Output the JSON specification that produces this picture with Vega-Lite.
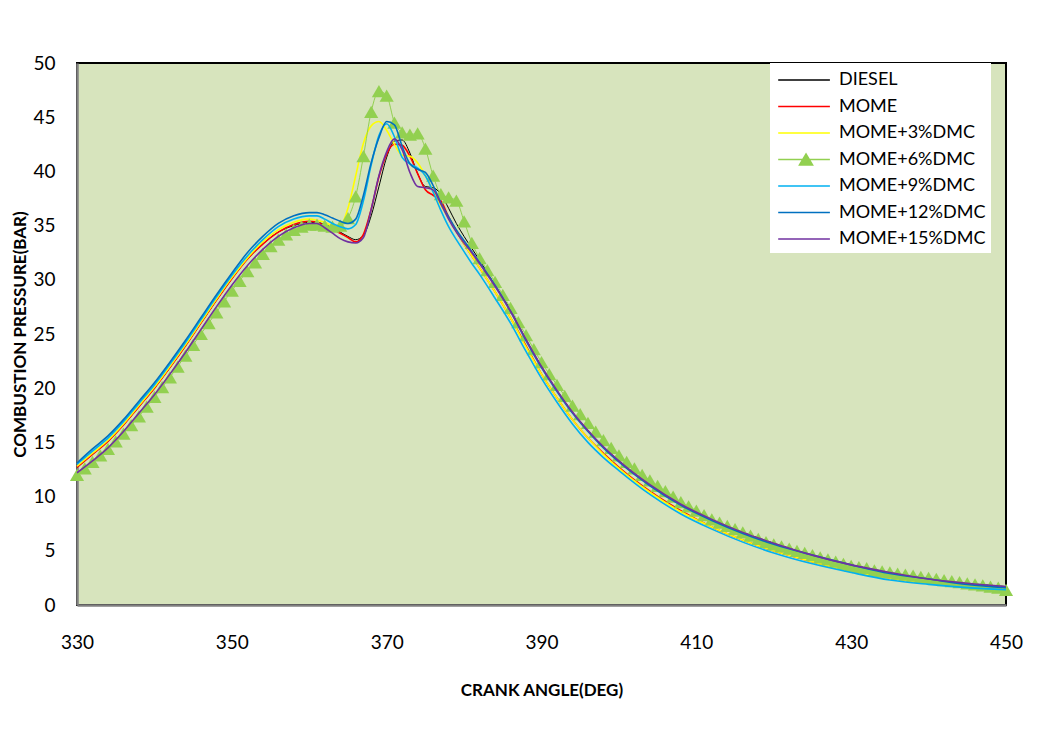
{
  "$schema": "https://vega.github.io/schema/vega-lite/v6.json",
  "width": 929,
  "height": 542,
  "autosize": {"type": "none"},
  "padding": {"left": 77, "top": 63, "right": 37, "bottom": 127},
  "background": "#ffffff",
  "config": {
    "view": {"fill": "#d7e4bd", "stroke": "#000000", "strokeWidth": 2},
    "font": "Lato",
    "axis": {"labelFont": "Lato", "titleFont": "Lato", "labelColor": "#000000", "titleColor": "#000000", "grid": false, "ticks": false, "domainColor": "#808080", "domainWidth": 2.5, "labelFlush": false}
  },
  "data": {"values": [
    {"s":"DIESEL","x":330,"y":12.7},{"s":"DIESEL","x":332,"y":13.9},{"s":"DIESEL","x":334,"y":15.1},{"s":"DIESEL","x":336,"y":16.6},{"s":"DIESEL","x":338,"y":18.3},{"s":"DIESEL","x":340,"y":20.0},{"s":"DIESEL","x":342,"y":21.9},{"s":"DIESEL","x":344,"y":23.9},{"s":"DIESEL","x":346,"y":26.0},{"s":"DIESEL","x":348,"y":28.1},{"s":"DIESEL","x":350,"y":30.1},{"s":"DIESEL","x":352,"y":31.9},{"s":"DIESEL","x":354,"y":33.3},{"s":"DIESEL","x":356,"y":34.4},{"s":"DIESEL","x":358,"y":35.0},{"s":"DIESEL","x":360,"y":35.3},{"s":"DIESEL","x":361,"y":35.3},{"s":"DIESEL","x":362,"y":35.1},{"s":"DIESEL","x":363,"y":34.8},{"s":"DIESEL","x":364,"y":34.4},{"s":"DIESEL","x":365,"y":34.0},{"s":"DIESEL","x":366,"y":33.7},{"s":"DIESEL","x":367,"y":34.1},{"s":"DIESEL","x":368,"y":35.9},{"s":"DIESEL","x":369,"y":38.6},{"s":"DIESEL","x":370,"y":41.3},{"s":"DIESEL","x":371,"y":42.8},{"s":"DIESEL","x":372,"y":42.9},{"s":"DIESEL","x":373,"y":41.7},{"s":"DIESEL","x":374,"y":39.8},{"s":"DIESEL","x":375,"y":38.6},{"s":"DIESEL","x":376,"y":38.5},{"s":"DIESEL","x":377,"y":37.9},{"s":"DIESEL","x":378,"y":36.6},{"s":"DIESEL","x":379,"y":35.2},{"s":"DIESEL","x":380,"y":34.0},{"s":"DIESEL","x":381,"y":32.9},{"s":"DIESEL","x":382,"y":31.8},{"s":"DIESEL","x":384,"y":29.5},{"s":"DIESEL","x":386,"y":27.2},{"s":"DIESEL","x":388,"y":24.5},{"s":"DIESEL","x":390,"y":22.0},{"s":"DIESEL","x":392,"y":19.8},{"s":"DIESEL","x":394,"y":17.8},{"s":"DIESEL","x":396,"y":16.1},{"s":"DIESEL","x":398,"y":14.6},{"s":"DIESEL","x":400,"y":13.3},{"s":"DIESEL","x":404,"y":11.1},{"s":"DIESEL","x":408,"y":9.3},{"s":"DIESEL","x":412,"y":7.9},{"s":"DIESEL","x":416,"y":6.7},{"s":"DIESEL","x":420,"y":5.7},{"s":"DIESEL","x":425,"y":4.6},{"s":"DIESEL","x":430,"y":3.7},{"s":"DIESEL","x":435,"y":3.0},{"s":"DIESEL","x":440,"y":2.4},{"s":"DIESEL","x":445,"y":2.0},{"s":"DIESEL","x":450,"y":1.7},

    {"s":"MOME","x":330,"y":12.7},{"s":"MOME","x":332,"y":13.9},{"s":"MOME","x":334,"y":15.1},{"s":"MOME","x":336,"y":16.6},{"s":"MOME","x":338,"y":18.3},{"s":"MOME","x":340,"y":20.0},{"s":"MOME","x":342,"y":21.9},{"s":"MOME","x":344,"y":23.9},{"s":"MOME","x":346,"y":26.0},{"s":"MOME","x":348,"y":28.1},{"s":"MOME","x":350,"y":30.1},{"s":"MOME","x":352,"y":31.9},{"s":"MOME","x":354,"y":33.3},{"s":"MOME","x":356,"y":34.4},{"s":"MOME","x":358,"y":35.1},{"s":"MOME","x":360,"y":35.4},{"s":"MOME","x":361,"y":35.3},{"s":"MOME","x":362,"y":35.0},{"s":"MOME","x":363,"y":34.7},{"s":"MOME","x":364,"y":34.3},{"s":"MOME","x":365,"y":33.9},{"s":"MOME","x":366,"y":33.5},{"s":"MOME","x":367,"y":34.2},{"s":"MOME","x":368,"y":36.5},{"s":"MOME","x":369,"y":39.5},{"s":"MOME","x":370,"y":41.6},{"s":"MOME","x":371,"y":42.5},{"s":"MOME","x":372,"y":42.4},{"s":"MOME","x":373,"y":41.4},{"s":"MOME","x":374,"y":39.8},{"s":"MOME","x":375,"y":38.3},{"s":"MOME","x":376,"y":37.8},{"s":"MOME","x":377,"y":37.3},{"s":"MOME","x":378,"y":35.8},{"s":"MOME","x":379,"y":34.5},{"s":"MOME","x":380,"y":33.3},{"s":"MOME","x":381,"y":32.2},{"s":"MOME","x":382,"y":31.1},{"s":"MOME","x":384,"y":28.9},{"s":"MOME","x":386,"y":26.5},{"s":"MOME","x":388,"y":23.9},{"s":"MOME","x":390,"y":21.3},{"s":"MOME","x":392,"y":19.1},{"s":"MOME","x":394,"y":17.1},{"s":"MOME","x":396,"y":15.4},{"s":"MOME","x":398,"y":14.0},{"s":"MOME","x":400,"y":12.7},{"s":"MOME","x":404,"y":10.5},{"s":"MOME","x":408,"y":8.7},{"s":"MOME","x":412,"y":7.2},{"s":"MOME","x":416,"y":6.0},{"s":"MOME","x":420,"y":5.0},{"s":"MOME","x":425,"y":4.0},{"s":"MOME","x":430,"y":3.1},{"s":"MOME","x":435,"y":2.5},{"s":"MOME","x":440,"y":2.0},{"s":"MOME","x":445,"y":1.6},{"s":"MOME","x":450,"y":1.3},

    {"s":"MOME+3%DMC","x":330,"y":12.8},{"s":"MOME+3%DMC","x":332,"y":14.0},{"s":"MOME+3%DMC","x":334,"y":15.2},{"s":"MOME+3%DMC","x":336,"y":16.7},{"s":"MOME+3%DMC","x":338,"y":18.4},{"s":"MOME+3%DMC","x":340,"y":20.1},{"s":"MOME+3%DMC","x":342,"y":22.0},{"s":"MOME+3%DMC","x":344,"y":24.0},{"s":"MOME+3%DMC","x":346,"y":26.1},{"s":"MOME+3%DMC","x":348,"y":28.2},{"s":"MOME+3%DMC","x":350,"y":30.2},{"s":"MOME+3%DMC","x":352,"y":32.0},{"s":"MOME+3%DMC","x":354,"y":33.5},{"s":"MOME+3%DMC","x":356,"y":34.6},{"s":"MOME+3%DMC","x":358,"y":35.3},{"s":"MOME+3%DMC","x":360,"y":35.6},{"s":"MOME+3%DMC","x":361,"y":35.5},{"s":"MOME+3%DMC","x":362,"y":35.3},{"s":"MOME+3%DMC","x":363,"y":35.0},{"s":"MOME+3%DMC","x":364,"y":35.0},{"s":"MOME+3%DMC","x":365,"y":36.6},{"s":"MOME+3%DMC","x":366,"y":39.6},{"s":"MOME+3%DMC","x":367,"y":42.6},{"s":"MOME+3%DMC","x":368,"y":44.2},{"s":"MOME+3%DMC","x":369,"y":44.6},{"s":"MOME+3%DMC","x":370,"y":43.8},{"s":"MOME+3%DMC","x":371,"y":42.5},{"s":"MOME+3%DMC","x":372,"y":41.5},{"s":"MOME+3%DMC","x":373,"y":41.4},{"s":"MOME+3%DMC","x":374,"y":40.8},{"s":"MOME+3%DMC","x":375,"y":39.6},{"s":"MOME+3%DMC","x":376,"y":38.2},{"s":"MOME+3%DMC","x":377,"y":36.9},{"s":"MOME+3%DMC","x":378,"y":35.7},{"s":"MOME+3%DMC","x":379,"y":34.5},{"s":"MOME+3%DMC","x":380,"y":33.3},{"s":"MOME+3%DMC","x":381,"y":32.2},{"s":"MOME+3%DMC","x":382,"y":31.1},{"s":"MOME+3%DMC","x":384,"y":28.9},{"s":"MOME+3%DMC","x":386,"y":26.5},{"s":"MOME+3%DMC","x":388,"y":23.8},{"s":"MOME+3%DMC","x":390,"y":21.3},{"s":"MOME+3%DMC","x":392,"y":19.1},{"s":"MOME+3%DMC","x":394,"y":17.1},{"s":"MOME+3%DMC","x":396,"y":15.4},{"s":"MOME+3%DMC","x":398,"y":13.9},{"s":"MOME+3%DMC","x":400,"y":12.6},{"s":"MOME+3%DMC","x":404,"y":10.4},{"s":"MOME+3%DMC","x":408,"y":8.6},{"s":"MOME+3%DMC","x":412,"y":7.2},{"s":"MOME+3%DMC","x":416,"y":6.0},{"s":"MOME+3%DMC","x":420,"y":5.0},{"s":"MOME+3%DMC","x":425,"y":4.0},{"s":"MOME+3%DMC","x":430,"y":3.1},{"s":"MOME+3%DMC","x":435,"y":2.5},{"s":"MOME+3%DMC","x":440,"y":2.0},{"s":"MOME+3%DMC","x":445,"y":1.6},{"s":"MOME+3%DMC","x":450,"y":1.3},

    {"s":"MOME+6%DMC","x":330,"y":12.0},{"s":"MOME+6%DMC","x":331,"y":12.6},{"s":"MOME+6%DMC","x":332,"y":13.2},{"s":"MOME+6%DMC","x":333,"y":13.8},{"s":"MOME+6%DMC","x":334,"y":14.4},{"s":"MOME+6%DMC","x":335,"y":15.1},{"s":"MOME+6%DMC","x":336,"y":15.8},{"s":"MOME+6%DMC","x":337,"y":16.6},{"s":"MOME+6%DMC","x":338,"y":17.4},{"s":"MOME+6%DMC","x":339,"y":18.3},{"s":"MOME+6%DMC","x":340,"y":19.2},{"s":"MOME+6%DMC","x":341,"y":20.1},{"s":"MOME+6%DMC","x":342,"y":21.0},{"s":"MOME+6%DMC","x":343,"y":22.0},{"s":"MOME+6%DMC","x":344,"y":23.0},{"s":"MOME+6%DMC","x":345,"y":24.0},{"s":"MOME+6%DMC","x":346,"y":25.0},{"s":"MOME+6%DMC","x":347,"y":26.0},{"s":"MOME+6%DMC","x":348,"y":27.0},{"s":"MOME+6%DMC","x":349,"y":28.0},{"s":"MOME+6%DMC","x":350,"y":29.0},{"s":"MOME+6%DMC","x":351,"y":29.9},{"s":"MOME+6%DMC","x":352,"y":30.8},{"s":"MOME+6%DMC","x":353,"y":31.6},{"s":"MOME+6%DMC","x":354,"y":32.4},{"s":"MOME+6%DMC","x":355,"y":33.1},{"s":"MOME+6%DMC","x":356,"y":33.7},{"s":"MOME+6%DMC","x":357,"y":34.2},{"s":"MOME+6%DMC","x":358,"y":34.6},{"s":"MOME+6%DMC","x":359,"y":34.9},{"s":"MOME+6%DMC","x":360,"y":35.1},{"s":"MOME+6%DMC","x":361,"y":35.1},{"s":"MOME+6%DMC","x":362,"y":35.0},{"s":"MOME+6%DMC","x":363,"y":34.9},{"s":"MOME+6%DMC","x":364,"y":35.0},{"s":"MOME+6%DMC","x":365,"y":35.7},{"s":"MOME+6%DMC","x":366,"y":37.7},{"s":"MOME+6%DMC","x":367,"y":41.4},{"s":"MOME+6%DMC","x":368,"y":45.5},{"s":"MOME+6%DMC","x":369,"y":47.4},{"s":"MOME+6%DMC","x":370,"y":47.0},{"s":"MOME+6%DMC","x":371,"y":44.5},{"s":"MOME+6%DMC","x":372,"y":43.6},{"s":"MOME+6%DMC","x":373,"y":43.4},{"s":"MOME+6%DMC","x":374,"y":43.5},{"s":"MOME+6%DMC","x":375,"y":42.1},{"s":"MOME+6%DMC","x":376,"y":39.6},{"s":"MOME+6%DMC","x":377,"y":37.9},{"s":"MOME+6%DMC","x":378,"y":37.6},{"s":"MOME+6%DMC","x":379,"y":37.3},{"s":"MOME+6%DMC","x":380,"y":35.4},{"s":"MOME+6%DMC","x":381,"y":33.4},{"s":"MOME+6%DMC","x":382,"y":32.0},{"s":"MOME+6%DMC","x":383,"y":30.9},{"s":"MOME+6%DMC","x":384,"y":29.8},{"s":"MOME+6%DMC","x":385,"y":28.6},{"s":"MOME+6%DMC","x":386,"y":27.4},{"s":"MOME+6%DMC","x":387,"y":26.1},{"s":"MOME+6%DMC","x":388,"y":24.9},{"s":"MOME+6%DMC","x":389,"y":23.6},{"s":"MOME+6%DMC","x":390,"y":22.4},{"s":"MOME+6%DMC","x":391,"y":21.3},{"s":"MOME+6%DMC","x":392,"y":20.3},{"s":"MOME+6%DMC","x":393,"y":19.3},{"s":"MOME+6%DMC","x":394,"y":18.4},{"s":"MOME+6%DMC","x":395,"y":17.6},{"s":"MOME+6%DMC","x":396,"y":16.8},{"s":"MOME+6%DMC","x":397,"y":16.0},{"s":"MOME+6%DMC","x":398,"y":15.2},{"s":"MOME+6%DMC","x":399,"y":14.5},{"s":"MOME+6%DMC","x":400,"y":13.8},{"s":"MOME+6%DMC","x":401,"y":13.2},{"s":"MOME+6%DMC","x":402,"y":12.6},{"s":"MOME+6%DMC","x":403,"y":12.0},{"s":"MOME+6%DMC","x":404,"y":11.5},{"s":"MOME+6%DMC","x":405,"y":11.0},{"s":"MOME+6%DMC","x":406,"y":10.5},{"s":"MOME+6%DMC","x":407,"y":10.0},{"s":"MOME+6%DMC","x":408,"y":9.5},{"s":"MOME+6%DMC","x":409,"y":9.1},{"s":"MOME+6%DMC","x":410,"y":8.7},{"s":"MOME+6%DMC","x":411,"y":8.3},{"s":"MOME+6%DMC","x":412,"y":7.9},{"s":"MOME+6%DMC","x":413,"y":7.6},{"s":"MOME+6%DMC","x":414,"y":7.3},{"s":"MOME+6%DMC","x":415,"y":7.0},{"s":"MOME+6%DMC","x":416,"y":6.7},{"s":"MOME+6%DMC","x":417,"y":6.4},{"s":"MOME+6%DMC","x":418,"y":6.1},{"s":"MOME+6%DMC","x":419,"y":5.8},{"s":"MOME+6%DMC","x":420,"y":5.6},{"s":"MOME+6%DMC","x":421,"y":5.4},{"s":"MOME+6%DMC","x":422,"y":5.2},{"s":"MOME+6%DMC","x":423,"y":5.0},{"s":"MOME+6%DMC","x":424,"y":4.8},{"s":"MOME+6%DMC","x":425,"y":4.6},{"s":"MOME+6%DMC","x":426,"y":4.4},{"s":"MOME+6%DMC","x":427,"y":4.2},{"s":"MOME+6%DMC","x":428,"y":4.0},{"s":"MOME+6%DMC","x":429,"y":3.8},{"s":"MOME+6%DMC","x":430,"y":3.6},{"s":"MOME+6%DMC","x":431,"y":3.5},{"s":"MOME+6%DMC","x":432,"y":3.4},{"s":"MOME+6%DMC","x":433,"y":3.2},{"s":"MOME+6%DMC","x":434,"y":3.1},{"s":"MOME+6%DMC","x":435,"y":3.0},{"s":"MOME+6%DMC","x":436,"y":2.9},{"s":"MOME+6%DMC","x":437,"y":2.8},{"s":"MOME+6%DMC","x":438,"y":2.7},{"s":"MOME+6%DMC","x":439,"y":2.6},{"s":"MOME+6%DMC","x":440,"y":2.5},{"s":"MOME+6%DMC","x":441,"y":2.4},{"s":"MOME+6%DMC","x":442,"y":2.3},{"s":"MOME+6%DMC","x":443,"y":2.2},{"s":"MOME+6%DMC","x":444,"y":2.1},{"s":"MOME+6%DMC","x":445,"y":2.0},{"s":"MOME+6%DMC","x":446,"y":1.9},{"s":"MOME+6%DMC","x":447,"y":1.8},{"s":"MOME+6%DMC","x":448,"y":1.7},{"s":"MOME+6%DMC","x":449,"y":1.6},{"s":"MOME+6%DMC","x":450,"y":1.4},

    {"s":"MOME+9%DMC","x":330,"y":13.0},{"s":"MOME+9%DMC","x":332,"y":14.2},{"s":"MOME+9%DMC","x":334,"y":15.4},{"s":"MOME+9%DMC","x":336,"y":16.9},{"s":"MOME+9%DMC","x":338,"y":18.6},{"s":"MOME+9%DMC","x":340,"y":20.3},{"s":"MOME+9%DMC","x":342,"y":22.2},{"s":"MOME+9%DMC","x":344,"y":24.2},{"s":"MOME+9%DMC","x":346,"y":26.3},{"s":"MOME+9%DMC","x":348,"y":28.4},{"s":"MOME+9%DMC","x":350,"y":30.4},{"s":"MOME+9%DMC","x":352,"y":32.2},{"s":"MOME+9%DMC","x":354,"y":33.7},{"s":"MOME+9%DMC","x":356,"y":34.9},{"s":"MOME+9%DMC","x":358,"y":35.6},{"s":"MOME+9%DMC","x":360,"y":35.9},{"s":"MOME+9%DMC","x":361,"y":35.9},{"s":"MOME+9%DMC","x":362,"y":35.6},{"s":"MOME+9%DMC","x":363,"y":35.2},{"s":"MOME+9%DMC","x":364,"y":34.9},{"s":"MOME+9%DMC","x":365,"y":34.7},{"s":"MOME+9%DMC","x":366,"y":35.1},{"s":"MOME+9%DMC","x":367,"y":37.3},{"s":"MOME+9%DMC","x":368,"y":40.6},{"s":"MOME+9%DMC","x":369,"y":43.3},{"s":"MOME+9%DMC","x":370,"y":44.4},{"s":"MOME+9%DMC","x":371,"y":43.2},{"s":"MOME+9%DMC","x":372,"y":41.3},{"s":"MOME+9%DMC","x":373,"y":40.7},{"s":"MOME+9%DMC","x":374,"y":40.3},{"s":"MOME+9%DMC","x":375,"y":39.6},{"s":"MOME+9%DMC","x":376,"y":38.1},{"s":"MOME+9%DMC","x":377,"y":36.4},{"s":"MOME+9%DMC","x":378,"y":34.9},{"s":"MOME+9%DMC","x":379,"y":33.7},{"s":"MOME+9%DMC","x":380,"y":32.6},{"s":"MOME+9%DMC","x":381,"y":31.5},{"s":"MOME+9%DMC","x":382,"y":30.5},{"s":"MOME+9%DMC","x":384,"y":28.3},{"s":"MOME+9%DMC","x":386,"y":26.0},{"s":"MOME+9%DMC","x":388,"y":23.4},{"s":"MOME+9%DMC","x":390,"y":20.9},{"s":"MOME+9%DMC","x":392,"y":18.7},{"s":"MOME+9%DMC","x":394,"y":16.7},{"s":"MOME+9%DMC","x":396,"y":15.0},{"s":"MOME+9%DMC","x":398,"y":13.6},{"s":"MOME+9%DMC","x":400,"y":12.4},{"s":"MOME+9%DMC","x":404,"y":10.2},{"s":"MOME+9%DMC","x":408,"y":8.4},{"s":"MOME+9%DMC","x":412,"y":7.0},{"s":"MOME+9%DMC","x":416,"y":5.8},{"s":"MOME+9%DMC","x":420,"y":4.8},{"s":"MOME+9%DMC","x":425,"y":3.8},{"s":"MOME+9%DMC","x":430,"y":3.0},{"s":"MOME+9%DMC","x":435,"y":2.3},{"s":"MOME+9%DMC","x":440,"y":1.9},{"s":"MOME+9%DMC","x":445,"y":1.6},{"s":"MOME+9%DMC","x":450,"y":1.4},

    {"s":"MOME+12%DMC","x":330,"y":13.1},{"s":"MOME+12%DMC","x":332,"y":14.4},{"s":"MOME+12%DMC","x":334,"y":15.6},{"s":"MOME+12%DMC","x":336,"y":17.1},{"s":"MOME+12%DMC","x":338,"y":18.8},{"s":"MOME+12%DMC","x":340,"y":20.5},{"s":"MOME+12%DMC","x":342,"y":22.4},{"s":"MOME+12%DMC","x":344,"y":24.4},{"s":"MOME+12%DMC","x":346,"y":26.5},{"s":"MOME+12%DMC","x":348,"y":28.6},{"s":"MOME+12%DMC","x":350,"y":30.6},{"s":"MOME+12%DMC","x":352,"y":32.5},{"s":"MOME+12%DMC","x":354,"y":34.0},{"s":"MOME+12%DMC","x":356,"y":35.2},{"s":"MOME+12%DMC","x":358,"y":35.9},{"s":"MOME+12%DMC","x":360,"y":36.2},{"s":"MOME+12%DMC","x":361,"y":36.2},{"s":"MOME+12%DMC","x":362,"y":36.0},{"s":"MOME+12%DMC","x":363,"y":35.7},{"s":"MOME+12%DMC","x":364,"y":35.4},{"s":"MOME+12%DMC","x":365,"y":35.2},{"s":"MOME+12%DMC","x":366,"y":35.6},{"s":"MOME+12%DMC","x":367,"y":37.8},{"s":"MOME+12%DMC","x":368,"y":40.8},{"s":"MOME+12%DMC","x":369,"y":43.1},{"s":"MOME+12%DMC","x":370,"y":44.6},{"s":"MOME+12%DMC","x":371,"y":44.3},{"s":"MOME+12%DMC","x":372,"y":42.3},{"s":"MOME+12%DMC","x":373,"y":40.7},{"s":"MOME+12%DMC","x":374,"y":40.2},{"s":"MOME+12%DMC","x":375,"y":39.9},{"s":"MOME+12%DMC","x":376,"y":38.7},{"s":"MOME+12%DMC","x":377,"y":37.1},{"s":"MOME+12%DMC","x":378,"y":35.8},{"s":"MOME+12%DMC","x":379,"y":34.6},{"s":"MOME+12%DMC","x":380,"y":33.6},{"s":"MOME+12%DMC","x":381,"y":32.6},{"s":"MOME+12%DMC","x":382,"y":31.6},{"s":"MOME+12%DMC","x":384,"y":29.5},{"s":"MOME+12%DMC","x":386,"y":27.1},{"s":"MOME+12%DMC","x":388,"y":24.4},{"s":"MOME+12%DMC","x":390,"y":21.9},{"s":"MOME+12%DMC","x":392,"y":19.7},{"s":"MOME+12%DMC","x":394,"y":17.7},{"s":"MOME+12%DMC","x":396,"y":16.0},{"s":"MOME+12%DMC","x":398,"y":14.5},{"s":"MOME+12%DMC","x":400,"y":13.2},{"s":"MOME+12%DMC","x":404,"y":11.0},{"s":"MOME+12%DMC","x":408,"y":9.2},{"s":"MOME+12%DMC","x":412,"y":7.8},{"s":"MOME+12%DMC","x":416,"y":6.6},{"s":"MOME+12%DMC","x":420,"y":5.6},{"s":"MOME+12%DMC","x":425,"y":4.6},{"s":"MOME+12%DMC","x":430,"y":3.7},{"s":"MOME+12%DMC","x":435,"y":2.9},{"s":"MOME+12%DMC","x":440,"y":2.4},{"s":"MOME+12%DMC","x":445,"y":1.9},{"s":"MOME+12%DMC","x":450,"y":1.6},

    {"s":"MOME+15%DMC","x":330,"y":12.2},{"s":"MOME+15%DMC","x":332,"y":13.3},{"s":"MOME+15%DMC","x":334,"y":14.5},{"s":"MOME+15%DMC","x":336,"y":16.0},{"s":"MOME+15%DMC","x":338,"y":17.7},{"s":"MOME+15%DMC","x":340,"y":19.4},{"s":"MOME+15%DMC","x":342,"y":21.3},{"s":"MOME+15%DMC","x":344,"y":23.3},{"s":"MOME+15%DMC","x":346,"y":25.4},{"s":"MOME+15%DMC","x":348,"y":27.5},{"s":"MOME+15%DMC","x":350,"y":29.5},{"s":"MOME+15%DMC","x":352,"y":31.3},{"s":"MOME+15%DMC","x":354,"y":32.8},{"s":"MOME+15%DMC","x":356,"y":34.0},{"s":"MOME+15%DMC","x":358,"y":34.8},{"s":"MOME+15%DMC","x":360,"y":35.2},{"s":"MOME+15%DMC","x":361,"y":35.2},{"s":"MOME+15%DMC","x":362,"y":34.8},{"s":"MOME+15%DMC","x":363,"y":34.3},{"s":"MOME+15%DMC","x":364,"y":33.8},{"s":"MOME+15%DMC","x":365,"y":33.5},{"s":"MOME+15%DMC","x":366,"y":33.4},{"s":"MOME+15%DMC","x":367,"y":33.9},{"s":"MOME+15%DMC","x":368,"y":36.5},{"s":"MOME+15%DMC","x":369,"y":39.6},{"s":"MOME+15%DMC","x":370,"y":41.8},{"s":"MOME+15%DMC","x":371,"y":43.0},{"s":"MOME+15%DMC","x":372,"y":42.0},{"s":"MOME+15%DMC","x":373,"y":39.9},{"s":"MOME+15%DMC","x":374,"y":38.6},{"s":"MOME+15%DMC","x":375,"y":38.5},{"s":"MOME+15%DMC","x":376,"y":38.3},{"s":"MOME+15%DMC","x":377,"y":37.0},{"s":"MOME+15%DMC","x":378,"y":35.6},{"s":"MOME+15%DMC","x":379,"y":34.4},{"s":"MOME+15%DMC","x":380,"y":33.4},{"s":"MOME+15%DMC","x":381,"y":32.5},{"s":"MOME+15%DMC","x":382,"y":31.5},{"s":"MOME+15%DMC","x":384,"y":29.4},{"s":"MOME+15%DMC","x":386,"y":27.1},{"s":"MOME+15%DMC","x":388,"y":24.5},{"s":"MOME+15%DMC","x":390,"y":22.0},{"s":"MOME+15%DMC","x":392,"y":19.8},{"s":"MOME+15%DMC","x":394,"y":17.8},{"s":"MOME+15%DMC","x":396,"y":16.1},{"s":"MOME+15%DMC","x":398,"y":14.6},{"s":"MOME+15%DMC","x":400,"y":13.3},{"s":"MOME+15%DMC","x":404,"y":11.1},{"s":"MOME+15%DMC","x":408,"y":9.3},{"s":"MOME+15%DMC","x":412,"y":7.9},{"s":"MOME+15%DMC","x":416,"y":6.7},{"s":"MOME+15%DMC","x":420,"y":5.7},{"s":"MOME+15%DMC","x":425,"y":4.6},{"s":"MOME+15%DMC","x":430,"y":3.7},{"s":"MOME+15%DMC","x":435,"y":3.0},{"s":"MOME+15%DMC","x":440,"y":2.4},{"s":"MOME+15%DMC","x":445,"y":2.0},{"s":"MOME+15%DMC","x":450,"y":1.7}
  ]},
  "encoding": {
    "x": {"field": "x", "type": "quantitative", "scale": {"domain": [330, 450], "nice": false, "zero": false},
      "axis": {"values": [330, 350, 370, 390, 410, 430, 450], "title": "CRANK ANGLE(DEG)", "labelFontSize": 19, "labelPadding": 28, "titleFontSize": 17, "titleFontWeight": "bold", "titlePadding": 30}},
    "y": {"field": "y", "type": "quantitative", "scale": {"domain": [0, 50], "nice": false},
      "axis": {"values": [0, 5, 10, 15, 20, 25, 30, 35, 40, 45, 50], "title": "COMBUSTION PRESSURE(BAR)", "labelFontSize": 19, "labelPadding": 22, "titleFontSize": 17, "titleFontWeight": "bold", "titlePadding": 3}}
  },
  "layer": [
    {
      "transform": [{"filter": {"field": "s", "oneOf": ["DIESEL", "MOME", "MOME+3%DMC", "MOME+6%DMC"]}}],
      "mark": {"type": "line", "interpolate": "monotone"},
      "encoding": {
        "color": {"field": "s", "type": "nominal",
          "scale": {"domain": ["DIESEL", "MOME", "MOME+3%DMC", "MOME+6%DMC", "MOME+9%DMC", "MOME+12%DMC", "MOME+15%DMC"],
                    "range": ["#000000", "#ff0000", "#ffff00", "#92d050", "#00b0f0", "#0070c0", "#7030a0"]},
          "legend": {"title": null, "orient": "none", "legendX": 693, "legendY": 0, "fillColor": "#ffffff", "padding": 5, "rowPadding": 5.5,
            "symbolSize": 484, "symbolType": "M-0.8,0H3.9", "symbolStrokeWidth": 1.6, "labelOffset": 40, "labelFontSize": 18, "labelFont": "Lato", "labelColor": "#000000",
            "encode": {"symbols": {"update": {
              "shape": {"signal": "datum.value === 'MOME+6%DMC' ? 'M-0.8,0H3.9M1.14,0.5L1.73,-0.5L2.32,0.5Z' : 'M-0.8,0H3.9'"},
              "fill": {"signal": "datum.value === 'MOME+6%DMC' ? '#92d050' : 'transparent'"}
            }}}}},
        "strokeWidth": {"condition": {"test": "datum.s === 'DIESEL' || datum.s === 'MOME+6%DMC'", "value": 1}, "value": 1.6}
      }
    },
    {
      "transform": [{"filter": {"field": "s", "equal": "MOME+6%DMC"}}],
      "mark": {"type": "point", "shape": "triangle-up", "filled": true, "color": "#92d050", "opacity": 1, "size": 200}
    },
    {
      "transform": [{"filter": {"field": "s", "oneOf": ["MOME+9%DMC", "MOME+12%DMC", "MOME+15%DMC"]}}],
      "mark": {"type": "line", "interpolate": "monotone", "strokeWidth": 1.6},
      "encoding": {
        "color": {"field": "s", "type": "nominal"}
      }
    }
  ]
}
